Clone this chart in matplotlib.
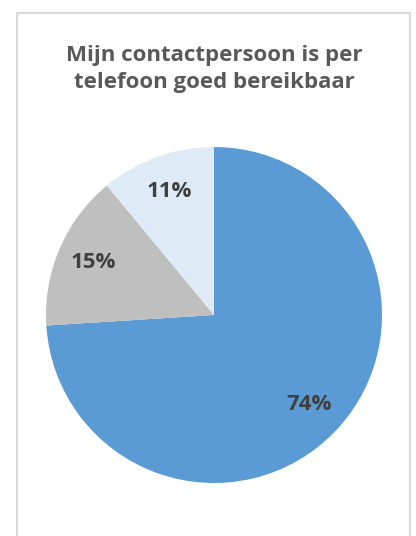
import matplotlib.pyplot as plt
from matplotlib.patches import Rectangle

# data
categories = ['Eens', 'Neutraal', 'Oneens']
values = [74, 15, 11]
colors = ['#5B9BD5', '#BFBFBF', '#DEEBF7']
title = 'Mijn contactpersoon is per\ntelefoon goed bereikbaar'

W, H = 416, 536
fig = plt.figure(figsize=(W / 100, H / 100), dpi=100)

# chart frame (bottom edge runs off the picture)
fig.patches.append(Rectangle((17 / W, -0.05), (410 - 17) / W, 1.05 - 13 / H,
                             transform=fig.transFigure, fill=False,
                             edgecolor='#D9D9D9', linewidth=1.5))

cx, cy, r = 214, 315, 168
ax = fig.add_axes([(cx - r) / W, (H - cy - r) / H, 2 * r / W, 2 * r / H])
ax.pie(values, colors=colors, startangle=90, counterclock=False,
       labels=[f'{v}%' for v in values], labeldistance=0.78,
       textprops=dict(color='#404040', fontsize=16, fontweight='bold',
                      family='Open Sans', ha='center', va='center'),
       wedgeprops=dict(linewidth=0), radius=1)
ax.set_xlim(-1, 1)
ax.set_ylim(-1, 1)
ax.set_aspect('equal')
ax.axis('off')

fig.text(214 / W, 1 - 69 / H, title, ha='center', va='center',
         fontsize=16, fontweight='bold', family='Open Sans', color='#595959',
         linespacing=1.35)

fig.savefig('out.png', dpi=100)
